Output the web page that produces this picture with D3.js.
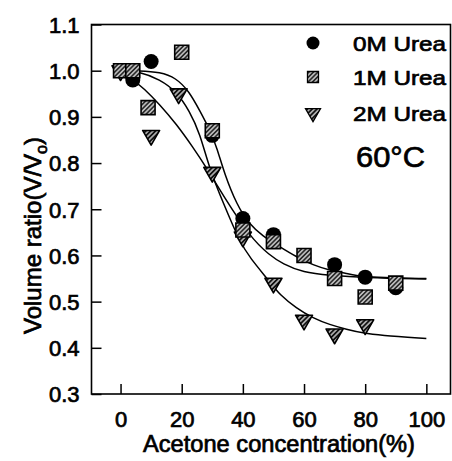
<!DOCTYPE html>
<html>
<head>
<meta charset="utf-8">
<script src="https://cdn.jsdelivr.net/npm/d3@7"></script>
<style>
	body { margin: 0; background: #fff; }
	text { font-family: "Liberation Sans", Arial, sans-serif; fill: #000; stroke: #000; stroke-width: 0.7px; }
</style>
</head>
<body>
<svg id="chart"></svg>
<script>
// tick labels
const xTicks = [0, 20, 40, 60, 80, 100];
const yTicks = [0.3, 0.4, 0.5, 0.6, 0.7, 0.8, 0.9, 1.0, 1.1];
const seriesNames = ["0M Urea", "1M Urea", "2M Urea"];

// measured points (acetone %, V/Vo)
const urea0X = [0, 4, 10, 30, 40, 50, 70, 80, 90];
const urea0Y = [1.0, 0.98, 1.02, 0.86, 0.68, 0.645, 0.58, 0.553, 0.53];
const urea1X = [0, 4, 9, 20, 30, 40, 50, 60, 70, 80, 90];
const urea1Y = [1.0, 1.0, 0.92, 1.04, 0.87, 0.655, 0.63, 0.60, 0.55, 0.51, 0.54];
const urea2X = [0, 10, 19, 30, 40, 50, 60, 70, 80];
const urea2Y = [1.0, 0.86, 0.95, 0.78, 0.64, 0.54, 0.46, 0.43, 0.45];

// fitted curves
const fitAX = [0, 6, 13, 18, 22.5, 26, 29, 31.5, 34, 38, 42, 46.5, 52, 57.5, 63, 68.4, 74, 79.3, 85, 100];
const fitAY = [1.0, 1.0, 0.997, 0.985, 0.955, 0.912, 0.875, 0.834, 0.776, 0.71, 0.668, 0.642, 0.619, 0.597, 0.579, 0.568, 0.561, 0.554, 0.552, 0.55];
const fitBX = [0, 6.3, 12.8, 18.3, 22.6, 25.9, 29.2, 33.5, 39, 42.3, 48.8, 52, 57.5, 63, 68.4, 73.9, 79.3, 84.7, 100];
const fitBY = [1.0, 0.998, 0.981, 0.955, 0.912, 0.865, 0.785, 0.715, 0.629, 0.595, 0.543, 0.515, 0.486, 0.464, 0.45, 0.44, 0.432, 0.427, 0.42];
const fitCX = [0, 4.7, 7.4, 12.8, 18.3, 23.7, 28.1, 33.5, 42.3, 48.8, 53, 59.7, 68.4, 79.3, 100];
const fitCY = [0.995, 0.977, 0.963, 0.927, 0.884, 0.834, 0.79, 0.73, 0.64, 0.60, 0.582, 0.563, 0.557, 0.552, 0.549];

const width = 452;
const height = 461;
const plotLeft = 91.5, plotRight = 450.5, plotTop = 24.5, plotBottom = 394;

const zip = (xs, ys) => xs.map((x, i) => ({ x, y: ys[i] }));

const svg = d3.select("#chart")
	.attr("width", width)
	.attr("height", height);

const x = d3.scaleLinear().domain([-9.5, 107.9]).range([plotLeft, plotRight]);
const y = d3.scaleLinear().domain([0.3, 1.1]).range([plotBottom, plotTop]);

// hatch fills
const defs = svg.append("defs");
function hatch(id, bg, gap) {
	const p = defs.append("pattern")
		.attr("id", id)
		.attr("patternUnits", "userSpaceOnUse")
		.attr("width", gap)
		.attr("height", gap)
		.attr("patternTransform", "rotate(45)");
	p.append("rect").attr("width", gap).attr("height", gap).attr("fill", bg);
	p.append("line")
		.attr("x1", gap / 2).attr("x2", gap / 2)
		.attr("y1", 0).attr("y2", gap)
		.attr("stroke", "#fff")
		.attr("stroke-width", 1.1);
}
hatch("hatchSq", "#2a2a2a", 3.2);
hatch("hatchTri", "#111", 3.4);

// frame
svg.append("rect")
	.attr("x", plotLeft)
	.attr("y", plotTop)
	.attr("width", plotRight - plotLeft)
	.attr("height", plotBottom - plotTop)
	.attr("fill", "none")
	.attr("stroke", "#000")
	.attr("stroke-width", 1.6);

const xAxis = svg.append("g")
	.attr("transform", `translate(0,${plotBottom})`)
	.call(d3.axisBottom(x).tickValues(xTicks).tickSizeInner(-10).tickSizeOuter(0).tickPadding(18));
const yAxis = svg.append("g")
	.attr("transform", `translate(${plotLeft},0)`)
	.call(d3.axisLeft(y).tickValues(yTicks).tickSizeInner(-10).tickSizeOuter(0).tickPadding(12).tickFormat(d3.format(".1f")));

[xAxis, yAxis].forEach((g) => {
	g.select(".domain").remove();
	g.selectAll(".tick line").attr("stroke", "#000").attr("stroke-width", 1.5);
	g.selectAll("text").style("font-size", "22px");
	g.attr("font-family", null).attr("font-size", null);
});
xAxis.selectAll("text").attr("dy", "0.7em");
yAxis.selectAll("text").attr("dy", "0.36em");

// axis titles
svg.append("text")
	.attr("x", (plotLeft + plotRight) / 2 + 8)
	.attr("y", 452)
	.attr("text-anchor", "middle")
	.style("font-size", "23px")
	.attr("textLength", 272)
	.attr("lengthAdjust", "spacingAndGlyphs")
	.text("Acetone concentration(%)");

const yTitle = svg.append("text")
	.attr("transform", "translate(41,334) rotate(-90)")
	.style("font-size", "24px");
yTitle.append("tspan").text("Volume ratio(V/V");
yTitle.append("tspan").attr("dy", 6).style("font-size", "16px").text("o");
yTitle.append("tspan").attr("dy", -6).text(")");

// curves
const line = d3.line()
	.x((d) => x(d.x))
	.y((d) => y(d.y))
	.curve(d3.curveBasis);

[zip(fitAX, fitAY), zip(fitBX, fitBY), zip(fitCX, fitCY)].forEach((pts) => {
	svg.append("path")
		.datum(pts)
		.attr("d", line)
		.attr("fill", "none")
		.attr("stroke", "#000")
		.attr("stroke-width", 1.5);
});

// markers
const circleSym = d3.symbol(d3.symbolCircle, Math.PI * 7.5 * 7.5);
const squareSym = d3.symbol(d3.symbolSquare, 14 * 14);
const triSym = d3.symbol(d3.symbolTriangle, Math.sqrt(3) / 4 * 17 * 17);

svg.append("g")
	.selectAll("path")
	.data(zip(urea0X, urea0Y))
	.enter()
	.append("path")
	.attr("d", circleSym)
	.attr("transform", (d) => `translate(${x(d.x)},${y(d.y)})`)
	.attr("fill", "#000");

svg.append("g")
	.selectAll("path")
	.data(zip(urea2X, urea2Y))
	.enter()
	.append("path")
	.attr("d", triSym)
	.attr("transform", (d) => `translate(${x(d.x)},${y(d.y)}) rotate(180)`)
	.attr("fill", "url(#hatchTri)")
	.attr("stroke", "#000")
	.attr("stroke-width", 1.6)
	.attr("stroke-linejoin", "round");

svg.append("g")
	.selectAll("path")
	.data(zip(urea1X, urea1Y))
	.enter()
	.append("path")
	.attr("d", squareSym)
	.attr("transform", (d) => `translate(${x(d.x)},${y(d.y)})`)
	.attr("fill", "url(#hatchSq)")
	.attr("stroke", "#000")
	.attr("stroke-width", 1.6);

// legend
const legendY = [43, 77, 113];
const legendSym = [
	{ sym: d3.symbol(d3.symbolCircle, Math.PI * 6.5 * 6.5), fill: "#000", rot: 0 },
	{ sym: d3.symbol(d3.symbolSquare, 11 * 11), fill: "url(#hatchSq)", rot: 0 },
	{ sym: d3.symbol(d3.symbolTriangle, Math.sqrt(3) / 4 * 15 * 15), fill: "url(#hatchTri)", rot: 180 }
];
const legend = svg.append("g")
	.selectAll("g")
	.data(seriesNames)
	.enter()
	.append("g")
	.attr("transform", (d, i) => `translate(313,${legendY[i]})`);
legend.append("path")
	.attr("d", (d, i) => legendSym[i].sym())
	.attr("transform", (d, i) => `rotate(${legendSym[i].rot})`)
	.attr("fill", (d, i) => legendSym[i].fill)
	.attr("stroke", (d, i) => i ? "#000" : "none")
	.attr("stroke-width", 1.3);
legend.append("text")
	.attr("x", 40)
	.attr("dy", "0.36em")
	.style("font-size", "21px")
	.attr("textLength", 93)
	.attr("lengthAdjust", "spacingAndGlyphs")
	.text((d) => d);

svg.append("text")
	.attr("x", 356)
	.attr("y", 167)
	.style("font-size", "30px")
	.attr("textLength", 69)
	.attr("lengthAdjust", "spacingAndGlyphs")
	.text("60°C");
</script>
</body>
</html>
